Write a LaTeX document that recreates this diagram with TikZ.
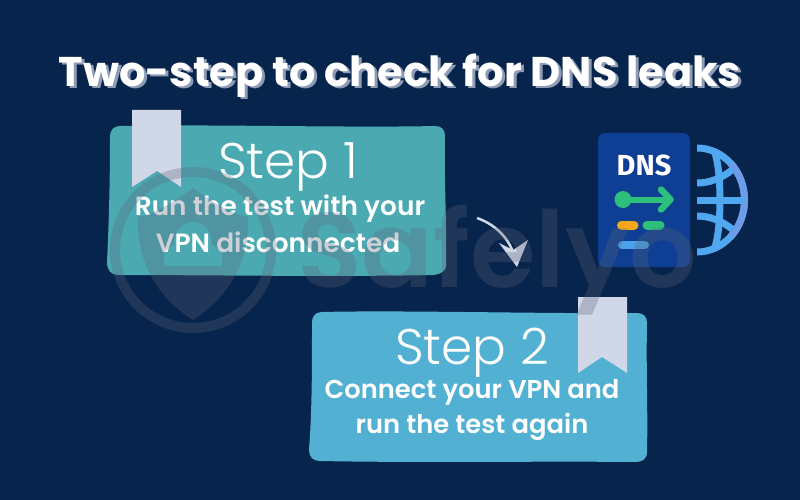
\documentclass[tikz,border=0pt]{standalone}
\usepackage{fontspec}
\setmainfont{Poppins}
\newfontfamily\plight{Poppins Light}
\newfontfamily\psemi{Poppins SemiBold}
\newfontfamily\dnsfont{Fira Sans}
\definecolor{bgc}{HTML}{07244C}
\definecolor{boxa}{HTML}{4BA9B2}
\definecolor{boxb}{HTML}{52B0D2}
\definecolor{markc}{HTML}{D0D8E8}
\definecolor{wm}{HTML}{5A6478}
\definecolor{dnsblue}{HTML}{0F3F94}
\definecolor{dnsgreen}{HTML}{2DC07C}
\definecolor{dnsorange}{HTML}{F5A81C}
\definecolor{dnssky}{HTML}{4BA3EA}
\definecolor{globe}{HTML}{4FA8F0}
\definecolor{globeb}{HTML}{6C9BE8}
\definecolor{shadowc}{HTML}{8E9CB5}
\tikzset{
  stepfill/.style={line join=round},
  steptitle/.style={text=white,font=\plight\fontsize{50}{52}\selectfont,inner sep=0pt,anchor=center},
  stepbody/.style={text=white,font=\psemi\fontsize{26.4}{30}\selectfont,inner sep=0pt,anchor=center},
  stepbodyb/.style={text=white,font=\psemi\fontsize{25.8}{30}\selectfont,inner sep=0pt,anchor=center},
  titletext/.style={font=\bfseries\fontsize{41.5}{44}\selectfont,inner sep=0pt,anchor=center},
  glb/.style={line width=7pt},
  pill/.style={line width=9pt,line cap=round},
}
\begin{document}
\begin{tikzpicture}[x=1pt,y=-1pt]
\useasboundingbox (0,0) rectangle (800,500);
\fill[bgc] (0,0) rectangle (800,500);
% title
\node[titletext,text=shadowc] (titleb) at (403,78) {Two-step to check for DNS leaks};
\node[titletext,text=white] (title) at (400,76) {Two-step to check for DNS leaks};
% box 1
\fill[boxa,stepfill] (120,126) .. controls (200,124) and (350,128) .. (435,126)
  .. controls (442,126) and (445,130) .. (445,136)
  .. controls (444,180) and (447,230) .. (446,265)
  .. controls (446,272) and (440,274) .. (434,275)
  .. controls (340,277) and (200,275) .. (118,275)
  .. controls (111,275) and (107,270) .. (107,262)
  .. controls (109,220) and (110,180) .. (110,136)
  .. controls (110,130) and (114,126) .. (120,126) -- cycle;
% box 2
\fill[boxb,stepfill] (322,312) .. controls (400,310) and (550,314) .. (637,313)
  .. controls (644,313) and (647,317) .. (647,323)
  .. controls (646,370) and (648,410) .. (647,452)
  .. controls (647,459) and (642,462) .. (636,462)
  .. controls (540,461) and (420,463) .. (320,461)
  .. controls (313,461) and (309,457) .. (309,450)
  .. controls (312,410) and (312,370) .. (312,322)
  .. controls (312,316) and (316,312) .. (322,312) -- cycle;
% bookmarks
\fill[markc] (132,110) -- (181,110) -- (181,187) -- (157,171) -- (132,187) -- cycle;
\fill[markc] (578,297) -- (627,297) -- (627,373) -- (602,357) -- (578,373) -- cycle;
% step text
\node[steptitle] (s1) at (288,167) {Step 1};
\node[stepbody] (b1a) at (280,209) {Run the test with your};
\node[stepbody] (b1b) at (278,242) {VPN disconnected};
\node[steptitle] (s2) at (472,353) {Step 2};
\node[stepbodyb] (b2a) at (472,392.5) {Connect your VPN and};
\node[stepbodyb] (b2b) at (472,426.5) {run the test again};
% curved arrow
\coordinate (ca) at (477,218);
\coordinate (cb) at (513,252);
\draw[markc,line width=2.5pt] (ca) .. controls (494,224) and (507,236) .. (cb);
\fill[markc] (528,240) -- (517,267) -- (499,243) -- (513,250) -- cycle;
% DNS card
\fill[dnsblue,rounded corners=7pt] (598,133) rectangle (690,267);
\node[text=white,font=\dnsfont\bfseries\fontsize{29}{30}\selectfont,inner sep=0pt] (dns) at (644,165) {DNS};
\fill[dnsgreen] (623,199.5) circle (8.5);
\coordinate (ga) at (623,199.5);
\coordinate (gb) at (670,199.5);
\draw[dnsgreen,line width=6pt] (ga) -- (gb);
\draw[dnsgreen,line width=6.5pt,line cap=round,line join=round] (661,189.5) -- (670.5,199.5) -- (661,209.5);
\draw[dnsorange,pill] (621.5,225) -- (634,225);
\draw[dnsgreen,pill] (647,225) -- (660,225);
\draw[dnssky,pill,line width=8pt] (622,245) -- (645,245);
% globe
\begin{scope}
\clip (697,130) rectangle (760,270);
\draw[glb,draw=globe] (697,148) arc[start angle=-90,end angle=90,x radius=47.5,y radius=52];
\draw[glb,draw=globeb] (730.6,163.2) arc[start angle=-45,end angle=45,x radius=47.5,y radius=52];
\draw[glb,draw=globe] (697,200) -- (743,200);
\draw[glb,draw=globe] (697,183) .. controls (710,183) and (722,178) .. (732,170);
\draw[glb,draw=globe] (697,216) .. controls (710,216) and (722,221) .. (732,229);
\draw[glb,draw=globe] (714,150) .. controls (722,170) and (722,230) .. (714,250);
\end{scope}
% watermark
\begin{scope}[opacity=.3]
\draw[wm,line width=10pt] (193,250) circle (78);
\fill[wm,even odd rule] (193,188) .. controls (210,200) and (230,214) .. (248,217)
  .. controls (250,265) and (225,300) .. (193,320)
  .. controls (161,300) and (136,265) .. (138,217)
  .. controls (156,214) and (176,200) .. (193,188) -- cycle
  (193,222) .. controls (205,222) and (212,232) .. (212,244) -- (222,252) -- (222,266) -- (164,266) -- (164,252) -- (174,244) .. controls (174,232) and (181,222) .. (193,222) -- cycle;
\node[text=wm,font=\psemi\fontsize{106}{108}\selectfont,inner sep=0pt,anchor=base] (wmt) at (497,287) {Safelyo};
\end{scope}
\end{tikzpicture}
\end{document}
